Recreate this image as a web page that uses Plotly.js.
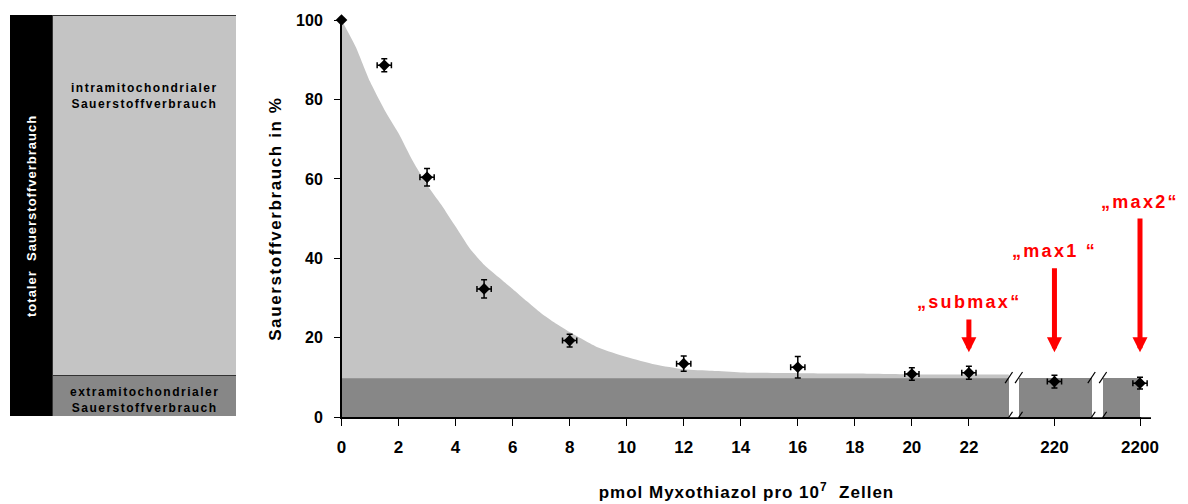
<!DOCTYPE html>
<html>
<head>
<meta charset="utf-8">
<script src="https://cdn.plot.ly/plotly-3.0.1.min.js"></script>
<style>html,body{margin:0;padding:0;background:#fff;}#chart{width:1188px;height:504px;}</style>
</head>
<body>
<div id="chart"></div>
<script>
// ---- data ----
const concentration = [0, 1.5, 3, 5, 8, 12, 16, 20, 22, 220, 2200];      // pmol Myxothiazol / 10^7 cells
const oxygenPct     = [100, 88.6, 60.4, 32.3, 19.3, 13.5, 12.6, 10.9, 11.2, 9.0, 8.6];
const oxygenErr     = [0, 1.65, 2.2, 2.3, 1.6, 1.9, 2.7, 1.6, 1.65, 1.6, 1.5];
const concErr       = [0, 0.25, 0.25, 0.25, 0.25, 0.25, 0.25, 0.25, 0.25, 0.25, 0.25];

// shaded "intramitochondrial" envelope
const curveX = [0, 0.5, 1, 1.5, 2, 2.5, 3, 3.5, 4, 4.5, 5, 5.5, 6, 6.5, 7, 7.5, 8, 9, 10, 11, 12, 13, 14, 16, 18, 20, 22, 23.4];
const curveY = [100, 93.2, 84.5, 77.5, 71.5, 64.5, 58.5, 53.5, 48, 42.5, 38.4, 35.3, 32.3, 29.2, 26.2, 23.7, 21.5, 17.6, 15.2, 13.3, 12.1, 11.7, 11.3, 11.1, 11.0, 10.8, 10.8, 10.8];

const extraLevel = 10;   // extramitochondrial share (%)
const intraLevel = 90;   // intramitochondrial share (%)

const xTickValues = [0, 2, 4, 6, 8, 10, 12, 14, 16, 18, 20, 22, 220, 2200];
const xTickLabels = ['0', '2', '4', '6', '8', '10', '12', '14', '16', '18', '20', '22', '220', '2200'];
const yTickValues = [0, 20, 40, 60, 80, 100];

const arrowTargets = [22, 220, 2200];
const arrowLabels  = ['„submax“', '„max1 “', '„max2“'];

// ---- broken axis mapping (linear up to 22, then two compressed segments) ----
const brokenPos = {220: 25, 2200: 28};
function pos(v) { return v <= 22 ? v : brokenPos[v]; }
const segStart = [0, 23.75, 26.7];
const segEnd   = [23.4, 26.3, 28];
const xMax = 28.4;

const FONT = 'Liberation Sans, Arial, Helvetica, sans-serif';
const sp = (t, s) => '<span style="letter-spacing:' + s + 'px">' + t + '</span>';

const xPos = concentration.map(pos);

const traces = [
  { // dark grey extramitochondrial band, split at the axis breaks
    type: 'bar',
    x: segStart.map((s, i) => (s + segEnd[i]) / 2),
    width: segStart.map((s, i) => segEnd[i] - s),
    y: segStart.map(() => extraLevel),
    marker: {color: '#878787', line: {width: 0}},
    hoverinfo: 'skip', showlegend: false, xaxis: 'x', yaxis: 'y'
  },
  { // baseline of the envelope = top of the dark band (slightly overlapping to avoid a seam)
    type: 'scatter', mode: 'lines', x: curveX, y: curveX.map(() => extraLevel - 0.15),
    line: {width: 0, color: 'rgba(0,0,0,0)'}, hoverinfo: 'skip', showlegend: false, xaxis: 'x', yaxis: 'y'
  },
  { // light grey envelope
    type: 'scatter', mode: 'lines', x: curveX, y: curveY,
    fill: 'tonexty', fillcolor: '#c4c4c4', line: {width: 0, color: '#c4c4c4', shape: 'spline', smoothing: 0.6},
    hoverinfo: 'skip', showlegend: false, xaxis: 'x', yaxis: 'y'
  },
  { // measurements
    type: 'scatter', mode: 'markers', x: xPos, y: oxygenPct,
    marker: {symbol: 'diamond', size: 9, color: '#000'},
    error_y: {type: 'data', array: oxygenErr, visible: true, color: '#000', thickness: 1.5, width: 3},
    error_x: {type: 'data', array: concErr, visible: true, color: '#000', thickness: 1.5, width: 3},
    cliponaxis: false, showlegend: false, xaxis: 'x', yaxis: 'y'
  },
  // left schematic panel
  {
    type: 'bar', x: [0.095], width: [0.19], y: [extraLevel + intraLevel],
    marker: {color: '#000', line: {color: '#000', width: 1}},
    hoverinfo: 'skip', showlegend: false, xaxis: 'x2', yaxis: 'y2'
  },
  {
    type: 'bar', x: [0.595], width: [0.81], y: [extraLevel],
    marker: {color: '#878787', line: {color: '#333', width: 1}},
    hoverinfo: 'skip', showlegend: false, xaxis: 'x2', yaxis: 'y2'
  },
  {
    type: 'bar', x: [0.595], width: [0.81], y: [intraLevel],
    marker: {color: '#c4c4c4', line: {color: '#333', width: 1}},
    hoverinfo: 'skip', showlegend: false, xaxis: 'x2', yaxis: 'y2'
  }
];

const shapes = [];
// white gaps across the axis line at the breaks, and past the last segment
for (let i = 0; i < segStart.length - 1; i++) {
  shapes.push({type: 'rect', xref: 'x', yref: 'y', x0: segEnd[i] + 0.02, x1: segStart[i + 1] - 0.02,
    y0: -1, y1: extraLevel + 0.5, fillcolor: '#fff', line: {width: 0}, layer: 'above'});
}
shapes.push({type: 'rect', xref: 'x', yref: 'y', x0: segEnd[segEnd.length - 1] + 0.04, x1: xMax + 0.1,
  y0: -1, y1: 1, fillcolor: '#fff', line: {width: 0}, layer: 'above'});
// break slashes at the top of the band and on the axis
const edges = [];
for (let i = 0; i < segStart.length - 1; i++) { edges.push(segEnd[i], segStart[i + 1]); }
[0, extraLevel].forEach(lv => {
  edges.forEach(e => {
    shapes.push({type: 'line', xref: 'x', yref: 'y', x0: e - 0.13, x1: e + 0.13, y0: lv - 1.4, y1: lv + 1.4,
      line: {color: '#000', width: 1.2}, layer: 'above'});
  });
});

const annotations = [];
const arrowTip = 16.4;
const labelCenter = [29.0, 41.9, 54.2];
const arrowStandoff = [7, 7, 6];
arrowTargets.forEach((v, i) => {
  annotations.push({xref: 'x', yref: 'y', axref: 'x', ayref: 'y', x: pos(v), y: arrowTip, ax: pos(v), ay: labelCenter[i],
    text: sp(arrowLabels[i], 2.3), font: {family: FONT, size: 18, color: '#ff0000', weight: 'bold'},
    showarrow: true, arrowhead: 2, arrowsize: 0.6, arrowwidth: 5, arrowcolor: '#ff0000',
    standoff: 0, startstandoff: arrowStandoff[i], borderpad: 0});
});
// panel texts
const panelFont = {family: FONT, size: 12, color: '#000', weight: 'bold'};
annotations.push({xref: 'x2', yref: 'y2', x: 0.095, y: 50, textangle: -90, showarrow: false,
  text: sp('totaler\u00a0 Sauerstoffverbrauch', 1), font: {family: FONT, size: 13, color: '#fff', weight: 'bold'}});
annotations.push({xref: 'x2', yref: 'y2', x: 0.597, y: 79.9, showarrow: false, borderpad: 0,
  text: sp('intramitochondrialer', 1.5) + '<br>' + sp('Sauerstoffverbrauch', 1.5), font: panelFont});
annotations.push({xref: 'x2', yref: 'y2', x: 0.597, y: 3.9, showarrow: false, borderpad: 0,
  text: sp('extramitochondrialer', 1.5) + '<br>' + sp('Sauerstoffverbrauch', 1.5), font: panelFont});

const pxPerUnit = (1140 - 341.5) / 28;
const layout = {
  width: 1188, height: 504,
  margin: {l: 0, r: 0, t: 0, b: 0},
  paper_bgcolor: '#fff', plot_bgcolor: 'rgba(0,0,0,0)',
  font: {family: FONT, color: '#000'},
  barmode: 'stack', bargap: 0, showlegend: false,
  xaxis: {
    domain: [341.5 / 1188, (341.5 + xMax * pxPerUnit) / 1188], range: [0, xMax], fixedrange: true,
    tickmode: 'array', tickvals: xTickValues.map(pos), ticktext: xTickLabels,
    ticks: 'outside', ticklen: 7, tickwidth: 1, tickcolor: '#000', ticklabelstandoff: 7,
    showline: true, linecolor: '#000', linewidth: 1.5, showgrid: false, zeroline: false,
    tickfont: {family: FONT, size: 17, weight: 'bold'},
    title: {text: sp('pmol Myxothiazol pro 10<sup>7</sup>\u00a0 Zellen', 1), standoff: 30,
            font: {family: FONT, size: 17, weight: 'bold'}}
  },
  yaxis: {
    domain: [86.7 / 504, 484 / 504], range: [0, 100], fixedrange: true,
    tickmode: 'array', tickvals: yTickValues,
    ticks: 'outside', ticklen: 6, tickwidth: 1, tickcolor: '#000', ticklabelstandoff: 8,
    showline: true, linecolor: '#000', linewidth: 1.5, showgrid: false, zeroline: false,
    tickfont: {family: FONT, size: 16, weight: 'bold'},
    title: {text: sp('Sauerstoffverbrauch in %', 1.6), standoff: 10,
            font: {family: FONT, size: 17, weight: 'bold'}}
  },
  xaxis2: {domain: [10 / 1188, 236 / 1188], range: [0, 1], visible: false, fixedrange: true, anchor: 'y2'},
  yaxis2: {domain: [88 / 504, 489 / 504], range: [0, 100], visible: false, fixedrange: true, anchor: 'x2'},
  shapes: shapes,
  annotations: annotations
};

Plotly.newPlot('chart', traces, layout, {displayModeBar: false, staticPlot: true});
</script>
</body>
</html>
